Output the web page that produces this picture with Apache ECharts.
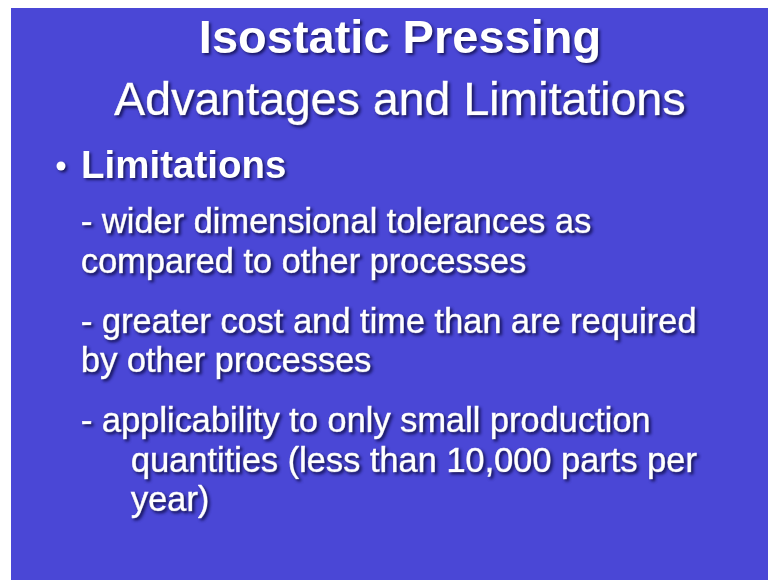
<!DOCTYPE html>
<html>
<head>
<meta charset="utf-8">
<title>Isostatic Pressing</title>
<script src="https://cdn.jsdelivr.net/npm/echarts@6/dist/echarts.min.js"></script>
<style>
	html, body {margin: 0; padding: 0; background: #ffffff;}
	#slide {width: 768px; height: 580px;}
</style>
</head>
<body>
<div id="slide"></div>
<script>
// slide texts
var titleLines = ['Isostatic Pressing', 'Advantages and Limitations'];
var sectionName = 'Limitations';
var limitItems = [
	['- wider dimensional tolerances as', 'compared to other processes'],
	['- greater cost and time than are required', 'by other processes'],
	['- applicability to only small production', 'quantities (less than 10,000 parts per', 'year)']
];

var main = {
	init: function() {
		var myChart = echarts.init(document.getElementById('slide'));
		var shadow = {
			textShadowColor: 'rgba(10,8,60,0.75)',
			textShadowBlur: 3,
			textShadowOffsetX: 2,
			textShadowOffsetY: 2
		};
		function txt(text, x, baseline, size, weight, align, border) {
			return {
				type: 'text',
				style: Object.assign({
					text: text,
					x: x,
					y: baseline - size * 0.36,
					fill: '#ffffff',
					font: weight + ' ' + size + 'px "Liberation Sans", Arial, sans-serif',
					textAlign: align || 'left',
					textVerticalAlign: 'middle',
					stroke: border ? '#f4f4ff' : null,
					lineWidth: border || 0
				}, shadow)
			};
		}

		var els = [{
			type: 'rect',
			shape: {x: 11, y: 8, width: 757, height: 572},
			style: {fill: '#4a47d6'}
		}];
		// title
		els.push(txt(titleLines[0], 400, 57, 47, 'bold', 'center'));
		els.push(txt(titleLines[1], 400, 119, 46.5, 'normal', 'center', 0.6));
		// bullet + heading
		els.push({
			type: 'circle',
			shape: {cx: 61, cy: 166, r: 4.5},
			style: {fill: '#ffffff', shadowColor: 'rgba(10,8,60,0.75)', shadowBlur: 3, shadowOffsetX: 2, shadowOffsetY: 2}
		});
		els.push(txt(sectionName, 81, 181, 38.5, 'bold'));

		// list items
		var baseline = 236;
		limitItems.forEach(function(item, i) {
			item.forEach(function(line, j) {
				// last item hangs its continuation lines
				var x = (j > 0 && i == limitItems.length - 1) ? 131 : 81;
				els.push(txt(line, x, baseline, 34.4, 'normal', 'left', 0.7));
				baseline += 39.5;
			});
			baseline += 20.5;
		});

		var option = {
			backgroundColor: '#ffffff',
			animation: false,
			graphic: els
		};
		myChart.setOption(option);
	}
};

main.init();
</script>
</body>
</html>
